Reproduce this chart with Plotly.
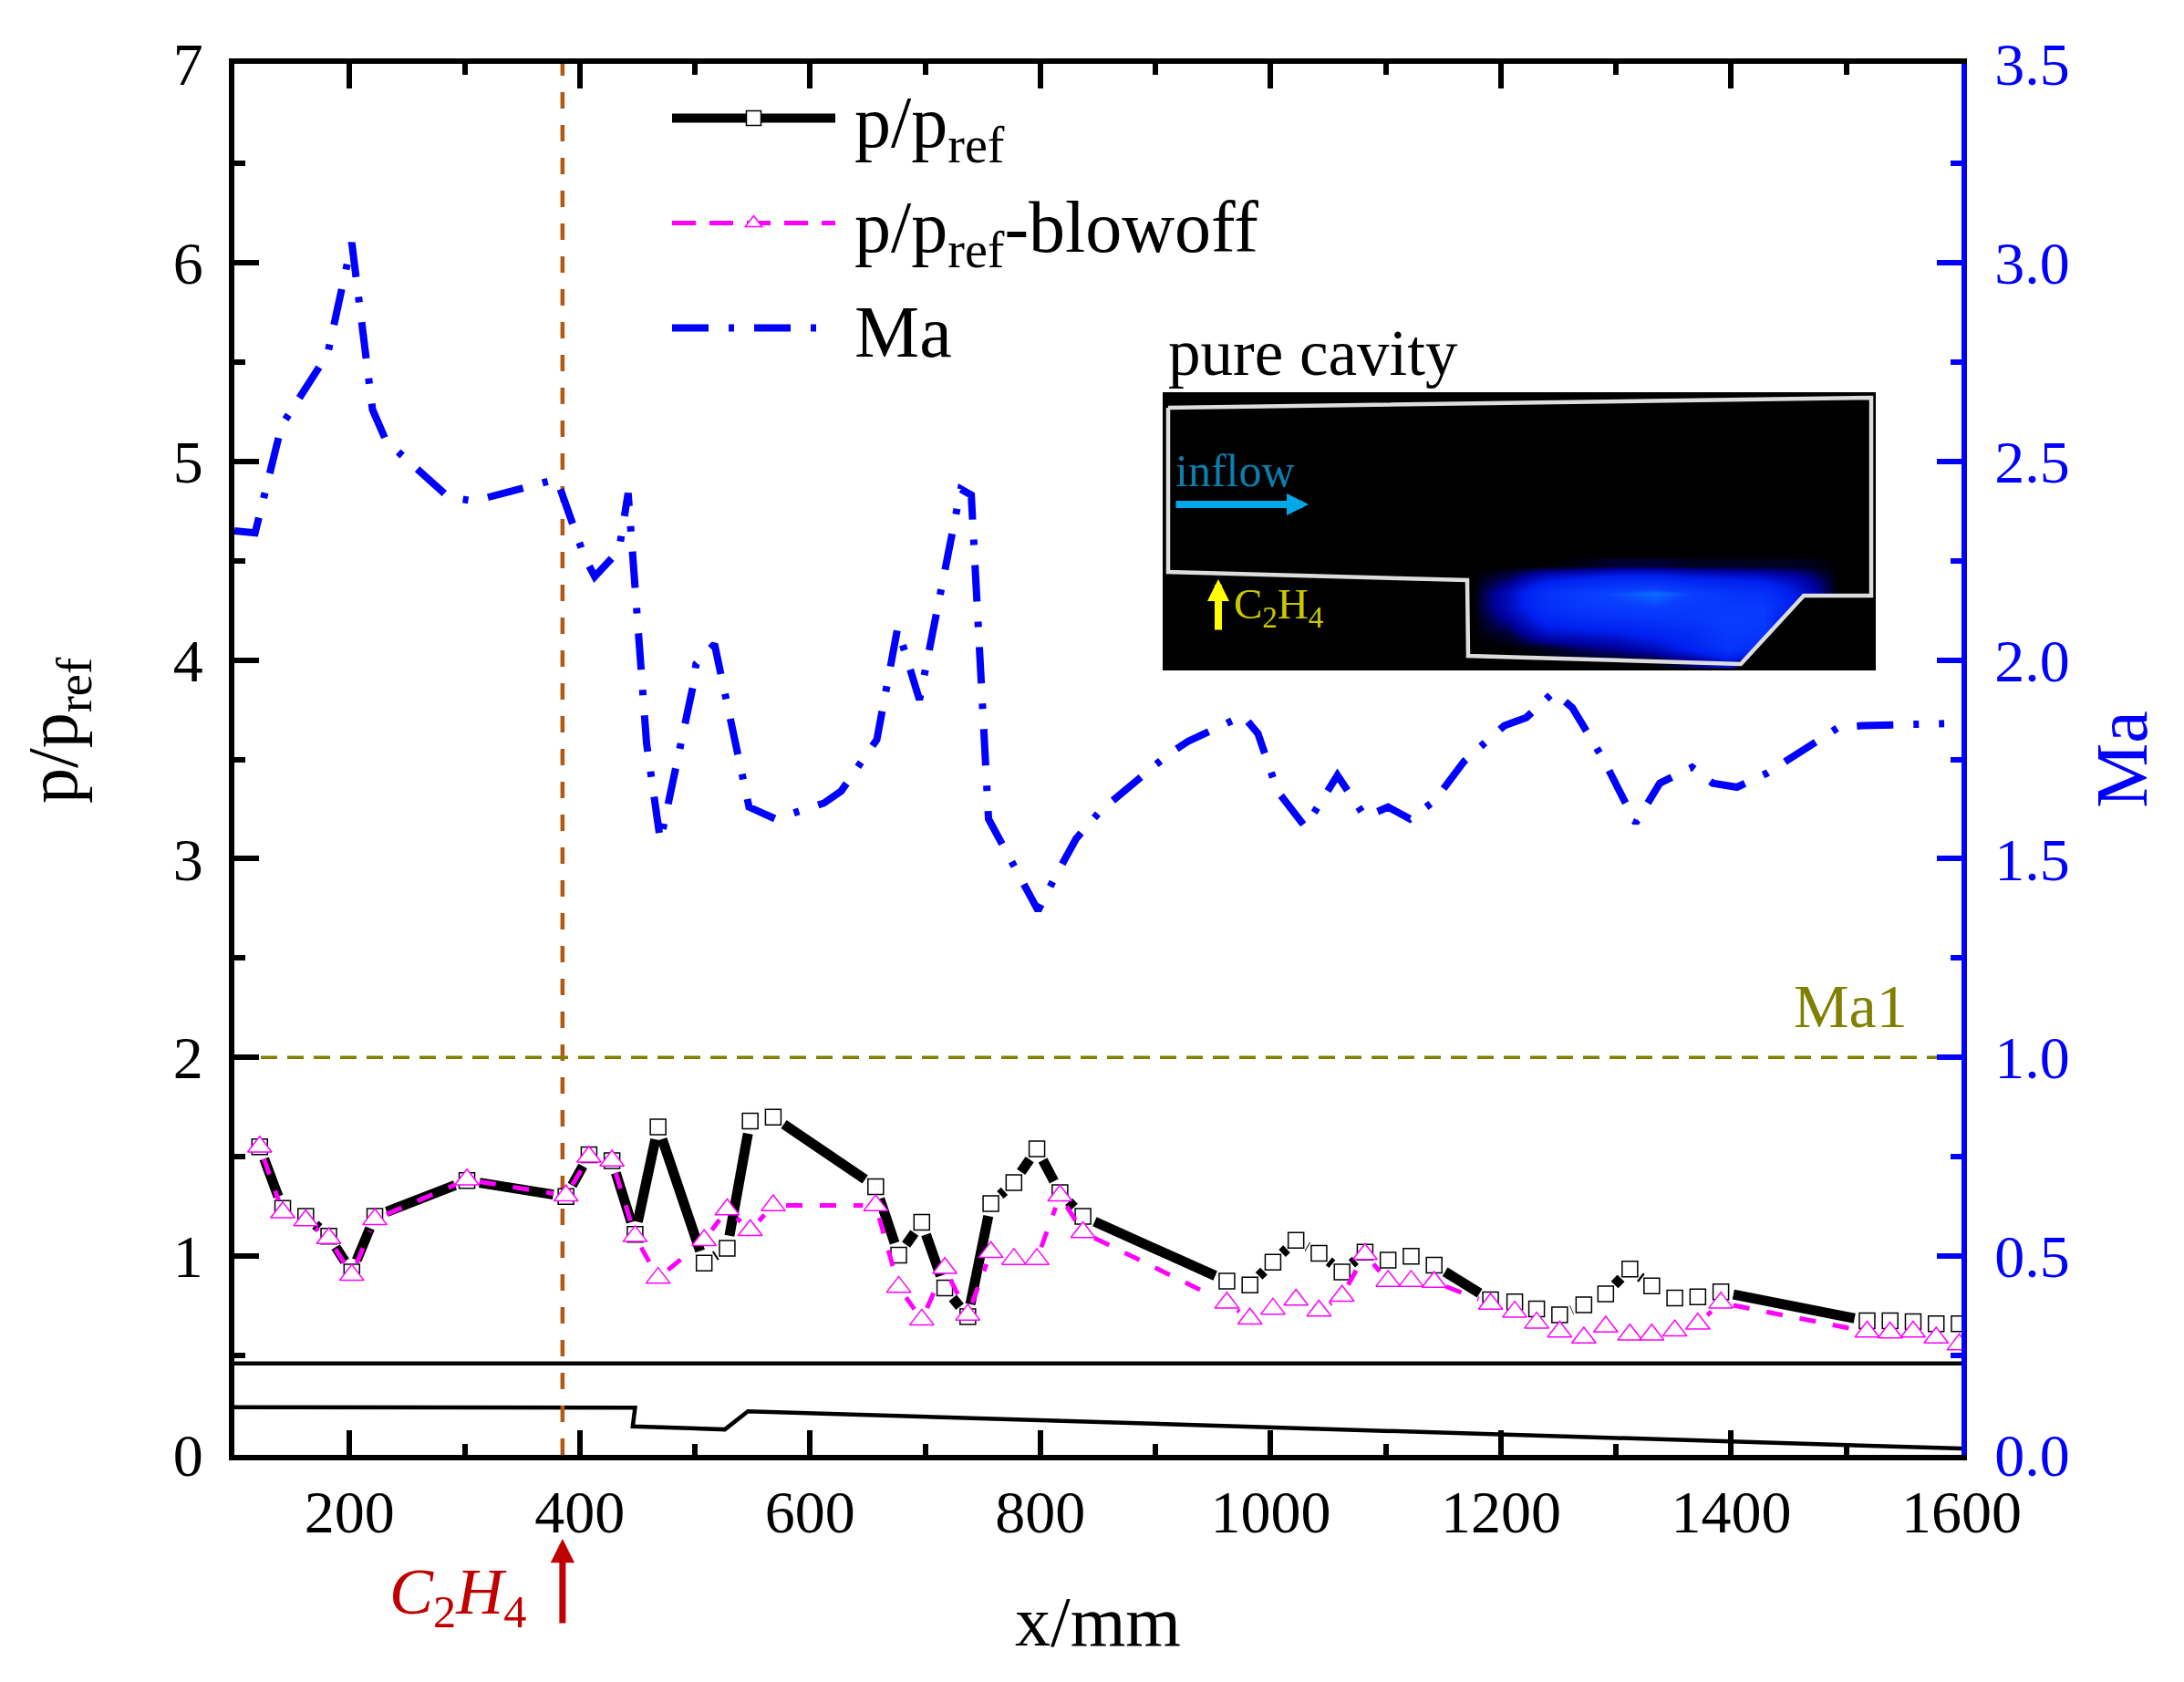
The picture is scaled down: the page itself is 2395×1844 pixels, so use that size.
import math

import plotly.graph_objects as go

# pressure ratio, shared stations (mm)
p_x = [122, 142, 162, 182, 202, 222, 302, 388, 408, 428, 448, 468, 508, 528, 548, 568, 657, 677, 697, 717,
       737, 757, 777, 797, 817, 837, 962, 982, 1002, 1022, 1042, 1062, 1082, 1102, 1122, 1142, 1191, 1212,
       1231, 1251, 1272, 1291, 1312, 1331, 1351, 1371, 1391, 1518, 1538, 1558, 1578, 1598]
p_ref = [1.55, 1.24, 1.20, 1.10, 0.92, 1.20, 1.38, 1.30, 1.51, 1.48, 1.11, 1.65, 0.965, 1.04, 1.68, 1.70,
         1.35, 1.005, 1.17, 0.84, 0.695, 1.265, 1.37, 1.54, 1.32, 1.20, 0.875, 0.855, 0.97, 1.08, 1.015,
         0.92, 1.02, 0.98, 1.00, 0.955, 0.78, 0.77, 0.735, 0.705, 0.755, 0.81, 0.935, 0.85, 0.79, 0.795,
         0.82, 0.675, 0.675, 0.67, 0.66, 0.66]
p_blowoff = [1.55, 1.22, 1.18, 1.09, 0.905, 1.185, 1.385, 1.305, 1.50, 1.48, 1.10, 0.89, 1.08, 1.235, 1.13,
             1.255, 1.255, 0.845, 0.68, 0.94, 0.705, 1.02, 0.985, 0.985, 1.305, 1.12, 0.765, 0.685, 0.735,
             0.78, 0.725, 0.80, 1.01, 0.875, 0.875, 0.87, 0.76, 0.72, 0.665, 0.62, 0.59, 0.645, 0.605,
             0.605, 0.625, 0.66, 0.765, 0.62, 0.615, 0.62, 0.59, 0.555]

# Mach number along the duct
ma_x = [100, 118, 141, 181, 202, 220, 232, 286, 308, 380, 404, 413, 434, 442, 458, 470, 498, 501, 517, 547,
        570, 612, 627, 658, 676, 695, 731, 740, 755, 798, 813, 831, 852, 910, 928, 976, 989, 1006, 1030,
        1058, 1082, 1102, 1121, 1142, 1168, 1203, 1222, 1246, 1262, 1289, 1317, 1338, 1366, 1384, 1405,
        1431, 1493, 1514, 1585]
ma = [2.325, 2.32, 2.59, 2.77, 3.05, 2.63, 2.55, 2.41, 2.40, 2.455, 2.26, 2.21, 2.275, 2.42, 1.79, 1.545,
      1.93, 1.99, 2.04, 1.63, 1.60, 1.64, 1.67, 1.80, 2.08, 1.90, 2.43, 2.415, 1.60, 1.37, 1.455, 1.55,
      1.62, 1.76, 1.795, 1.86, 1.815, 1.67, 1.58, 1.71, 1.605, 1.63, 1.60, 1.645, 1.745, 1.835, 1.855,
      1.92, 1.88, 1.75, 1.59, 1.69, 1.73, 1.69, 1.68, 1.715, 1.83, 1.835, 1.84]

# duct outline at the bottom of the plot
wall_x = [100, 380, 448, 446, 526, 546, 1600]
wall_y = [0.24, 0.238, 0.237, 0.143, 0.128, 0.219, 0.032]
top_wall_x = [100, 1600]
top_wall_y = [0.46, 0.46]

inject_x = [385, 385]
inject_y = [0, 7]
ma1_x = [100, 1600]
ma1_y = [1, 1]

x_ticks = [200, 400, 600, 800, 1000, 1200, 1400, 1600]

# inset photograph, in inset pixels
cavity_u = [6, 777, 777, 703, 634, 335, 334, 6, 6]
cavity_v = [17, 6, 223, 223, 298, 289, 206, 197, 17]
mask_u = [703, 782, 782, 625, 634, 703]
mask_v = [223, 223, 305, 305, 298, 223]
glow_u = [340, 380, 420, 460, 500, 540, 580, 620, 660, 700, 740]
glow_v = [190, 205, 220, 235, 250, 265, 280, 295]
glow = [
    [0, 0, 0, .02, .05, .05, .03, .03, .03, .03, 0],
    [0, .10, .35, .45, .55, .55, .45, .40, .35, .20, 0],
    [0, .25, .65, .80, .90, 1.0, .85, .70, .65, .30, 0],
    [0, .25, .60, .75, .80, .85, .75, .75, .75, .30, 0],
    [0, .15, .45, .55, .60, .65, .70, .80, .75, 0, 0],
    [0, .05, .25, .30, .35, .45, .55, .75, .70, 0, 0],
    [0, 0, .03, .10, .15, .25, .45, .70, .55, 0, 0],
    [0, 0, 0, 0, 0, 0, .10, .30, 0, 0, 0],
]

WIDTH, HEIGHT = 2395, 1844
LEFT, RIGHT, TOP, BOTTOM = 257, 2151, 70, 1595
FONT = "Liberation Serif"
MARKER_GAP = 14


def gapped(x, y):
    """Line through the points, broken around each symbol like Origin does."""
    sx = (RIGHT - LEFT) / 1500
    sy = (BOTTOM - TOP) / 7
    xs, ys = [], []
    for i in range(len(x) - 1):
        length = math.hypot((x[i + 1] - x[i]) * sx, (y[i + 1] - y[i]) * sy)
        if length <= 2 * MARKER_GAP:
            continue
        t = MARKER_GAP / length
        xs += [x[i] + (x[i + 1] - x[i]) * t, x[i + 1] - (x[i + 1] - x[i]) * t, None]
        ys += [y[i] + (y[i + 1] - y[i]) * t, y[i + 1] - (y[i + 1] - y[i]) * t, None]
    return xs, ys


def paper_x(px):
    return (px - LEFT) / (RIGHT - LEFT)


def paper_y(px):
    return (BOTTOM - px) / (BOTTOM - TOP)


fig = go.Figure()

# duct and reference lines
fig.add_trace(go.Scatter(x=top_wall_x, y=top_wall_y, mode="lines", showlegend=False,
                         line=dict(color="black", width=4.5)))
fig.add_trace(go.Scatter(x=wall_x, y=wall_y, mode="lines", showlegend=False,
                         line=dict(color="black", width=4.5)))
fig.add_trace(go.Scatter(x=inject_x, y=inject_y, mode="lines", showlegend=False,
                         line=dict(color="#b25a14", width=4.5, dash="18px,18px")))

black_x, black_y = gapped(p_x, p_ref)
fig.add_trace(go.Scatter(x=black_x, y=black_y, mode="lines", showlegend=False,
                         line=dict(color="black", width=11)))
fig.add_trace(go.Scatter(x=p_x, y=p_ref, mode="markers", showlegend=False,
                         marker=dict(symbol="square", size=17, color="white", line=dict(color="black", width=1.5))))
pink_x, pink_y = gapped(p_x, p_blowoff)
fig.add_trace(go.Scatter(x=pink_x, y=pink_y, mode="lines", showlegend=False,
                         line=dict(color="#ff00ff", width=5, dash="18px,19px")))
fig.add_trace(go.Scatter(x=p_x, y=p_blowoff, mode="markers", showlegend=False,
                         marker=dict(symbol="triangle-up", size=23, color="white", line=dict(color="#ff00ff", width=1.5))))

fig.add_trace(go.Scatter(x=ma1_x, y=ma1_y, yaxis="y2", mode="lines", showlegend=False,
                         line=dict(color="#808000", width=3.5, dash="18px,11px")))
fig.add_trace(go.Scatter(x=ma_x, y=ma, yaxis="y2", mode="lines", showlegend=False,
                         line=dict(color="#0000ff", width=8, dash="40px,22px,6px,22px")))

# legend entries only, the broken lines above cannot carry a whole key
fig.add_trace(go.Scatter(x=[None], y=[None], mode="lines+markers", name="\u2009p/p<sub>ref</sub>", legendgroup="a",
                         line=dict(color="black", width=11),
                         marker=dict(symbol="square", size=17, color="white", line=dict(color="black", width=1.5))))
fig.add_trace(go.Scatter(x=[None], y=[None], mode="lines+markers", name="\u2009p/p<sub>ref</sub>-blowoff", legendgroup="b",
                         line=dict(color="#ff00ff", width=5, dash="26px,15px"),
                         marker=dict(symbol="triangle-up", size=23, color="white", line=dict(color="#ff00ff", width=1.5))))
fig.add_trace(go.Scatter(x=[None], y=[None], mode="lines", name="\u2009Ma", legendgroup="c",
                         line=dict(color="#0000ff", width=8, dash="40px,22px,6px,22px")))

# inset
fig.add_trace(go.Heatmap(x=glow_u, y=glow_v, z=glow, xaxis="x3", yaxis="y3", zmin=0, zmax=1, zsmooth="best",
                         showscale=False,
                         colorscale=[[0, "black"], [0.15, "#00009a"], [0.4, "#0020f0"], [0.85, "#0a40ff"], [1, "#0a70ff"]]))
fig.add_trace(go.Scatter(x=mask_u, y=mask_v, xaxis="x3", yaxis="y3", mode="lines", showlegend=False,
                         fill="toself", fillcolor="black", line=dict(color="black", width=0)))
fig.add_trace(go.Scatter(x=cavity_u, y=cavity_v, xaxis="x3", yaxis="y3", mode="lines", showlegend=False,
                         line=dict(color="#dddddd", width=4.5)))

fig.update_layout(
    width=WIDTH,
    height=HEIGHT,
    margin=dict(l=LEFT, r=WIDTH - RIGHT, t=TOP, b=HEIGHT - BOTTOM, autoexpand=False),
    paper_bgcolor="white",
    plot_bgcolor="white",
    font=dict(family=FONT, color="black", size=66),
    xaxis=dict(
        range=[100, 1600], tickvals=x_ticks, ticks="inside", ticklen=27, tickwidth=6, tickcolor="black",
        showline=True, linewidth=6, linecolor="black", mirror="ticks", showgrid=False, zeroline=False,
        minor=dict(dtick=100, tick0=100, ticks="inside", ticklen=12, tickwidth=6, tickcolor="black", showgrid=False),
        tickfont=dict(size=66), ticklabelstandoff=0,
        title=dict(text="x/mm", font=dict(size=78), standoff=58),
    ),
    yaxis=dict(
        range=[0, 7], dtick=1, tick0=0, ticks="inside", ticklen=27, tickwidth=6, tickcolor="black",
        showline=True, linewidth=6, linecolor="black", showgrid=False, zeroline=False,
        minor=dict(dtick=0.5, tick0=0, ticks="inside", ticklen=12, tickwidth=6, tickcolor="black", showgrid=False),
        tickfont=dict(size=66), ticklabelstandoff=15,
    ),
    yaxis2=dict(
        range=[0, 3.5], dtick=0.5, tick0=0, overlaying="y", side="right", tickformat=".1f", ticks="inside",
        ticklen=27, tickwidth=6, tickcolor="#0000ff", showline=True, linewidth=6, linecolor="#0000ff",
        showgrid=False, zeroline=False,
        minor=dict(dtick=0.25, tick0=0, ticks="inside", ticklen=12, tickwidth=6, tickcolor="#0000ff", showgrid=False),
        tickfont=dict(size=66, color="#0000ff"), ticklabelstandoff=17,
        title=dict(text="Ma", font=dict(size=80, color="#0000ff"), standoff=31),
    ),
    xaxis3=dict(domain=[paper_x(1275), paper_x(2057)], range=[0, 782], anchor="y3", visible=False),
    yaxis3=dict(domain=[paper_y(735), paper_y(430)], range=[305, 0], anchor="x3", visible=False),
    legend=dict(
        x=paper_x(732), y=paper_y(71), xanchor="left", yanchor="top", itemwidth=179, tracegroupgap=8,
        bgcolor="rgba(0,0,0,0)", font=dict(size=80, family=FONT),
    ),
    shapes=[
        dict(type="rect", xref="x3", yref="y3", x0=0, x1=782, y0=0, y1=305, fillcolor="black",
             line=dict(width=0), layer="below"),
    ],
    annotations=[
        dict(text="p/p<sub>ref</sub>", xref="paper", yref="paper", x=paper_x(63), y=paper_y(801), textangle=-90,
             xanchor="center", yanchor="middle", showarrow=False, font=dict(size=78)),
        dict(text="Ma1", x=1504, y=2.26, showarrow=False, font=dict(size=68, color="#808000")),
        dict(text="pure cavity", xref="paper", yref="paper", x=paper_x(1279), y=paper_y(387), xanchor="left",
             yanchor="middle", showarrow=False, font=dict(size=71)),
        dict(text="inflow", xref="x3", yref="y3", x=12, y=86, xanchor="left", showarrow=False,
             font=dict(size=50, color="#0a7fae")),
        dict(text="C<sub>2</sub>H<sub>4</sub>", xref="x3", yref="y3", x=76, y=235, xanchor="left",
             showarrow=False, font=dict(size=47, color="#c8c800")),
        dict(text="", xref="x3", yref="y3", axref="x3", ayref="y3", x=160, y=123, ax=13, ay=123,
             arrowcolor="#00a8e8", arrowwidth=8, arrowhead=2, arrowsize=0.6),
        dict(text="", xref="x3", yref="y3", axref="x3", ayref="y3", x=61, y=205, ax=61, ay=262,
             arrowcolor="#ffff00", arrowwidth=8, arrowhead=2, arrowsize=0.6),
        dict(text="", x=385, yref="paper", y=paper_y(1687), ax=0, ay=94,
             arrowcolor="#c00000", arrowwidth=7, arrowhead=2, arrowsize=0.75),
        dict(text="<i>C</i><sub>2</sub><i>H</i><sub>4</sub>", x=294, yref="paper", y=paper_y(1750), yanchor="middle",
             showarrow=False, font=dict(size=72, color="#c00000")),
    ],
)

fig.write_html("out.html", config=dict(displayModeBar=False), post_script="document.body.style.margin='0'")
